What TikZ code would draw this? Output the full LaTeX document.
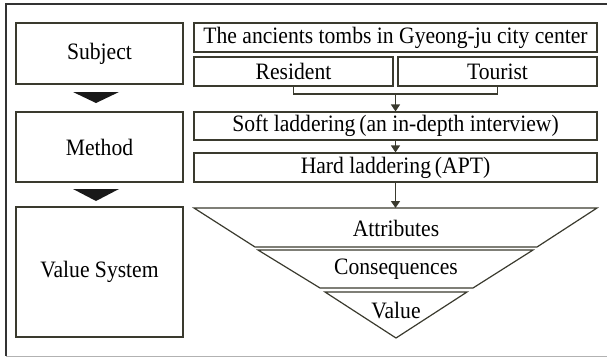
\documentclass[tikz,border=0pt]{standalone}
\usepackage{fontspec}
\setmainfont[FakeStretch=0.92]{Liberation Serif}
\usetikzlibrary{arrows.meta}
\definecolor{boxline}{HTML}{3A3A2E}
\begin{document}
\begin{tikzpicture}[x=1pt,y=-1pt,
    box/.style={draw=boxline,line width=1.2pt,inner sep=0pt,font=\fontsize{23.5}{27}\selectfont},
    label/.style={inner sep=0pt,font=\fontsize{23.5}{27}\selectfont},
    flow/.style={draw=boxline,line width=1.4pt,-{Triangle[width=9pt,length=7pt]}},
    bigarrow/.style={fill=black!90}]
  \useasboundingbox (0,0) rectangle (607,357);
  % frame
  \draw[line width=2pt,black!80] (607,4) -- (6,4) -- (6,356);
  \draw[line width=1pt,black!30] (6,356) -- (607,356);

  % left column
  \node[box,minimum width=167pt,minimum height=61pt] (subject) at (99.5,53.5) {Subject};
  \node[box,minimum width=167pt,minimum height=70pt] (method) at (99.5,147) {Method};
  \node[box,minimum width=167pt,minimum height=130pt] (valsys) at (99.5,272) {Value System};
  \fill[bigarrow] (73,92) -- (119,92) -- (96,103) -- cycle;
  \fill[bigarrow] (73,189) -- (119,189) -- (96,201) -- cycle;

  % right column
  \node[box,minimum width=403pt,minimum height=29pt] (tombs) at (395.5,37.5) {The ancients tombs in Gyeong-ju city center};
  \node[box,minimum width=199pt,minimum height=29pt] (resident) at (293.5,71.5) {Resident};
  \node[box,minimum width=199pt,minimum height=29pt] (tourist) at (497.5,71.5) {Tourist};
  \node[box,minimum width=403pt,minimum height=28pt] (soft) at (395.5,126) {Soft laddering\,(an in-depth interview)};
  \node[box,minimum width=403pt,minimum height=29pt] (hard) at (395.5,167.5) {Hard laddering\,(APT)};
  \coordinate (join) at (395.5,94);
  \draw[draw=boxline,line width=1.2pt] (resident.south) |- (join) -| (tourist.south);
  \draw[flow] (join) -- (soft.north);
  \draw[flow] (soft.south) -- (hard.north);

  % pyramid
  \coordinate (top) at (395.5,208);
  \draw[draw=boxline,line width=1.2pt] (194,208) -- (597,208) -- (537,247) -- (255,247) -- cycle;
  \draw[draw=boxline,line width=1.2pt] (258,250) -- (533,250) -- (473,288) -- (320,288) -- cycle;
  \draw[draw=boxline,line width=1.2pt] (325,292) -- (467,292) -- (396,338) -- cycle;
  \draw[flow] (hard.south) -- (top);
  \node[label] (attr) at (396,228) {Attributes};
  \node[label] (cons) at (396,269) {Consequences};
  \node[label] (value) at (396,311) {Value};
\end{tikzpicture}
\end{document}
